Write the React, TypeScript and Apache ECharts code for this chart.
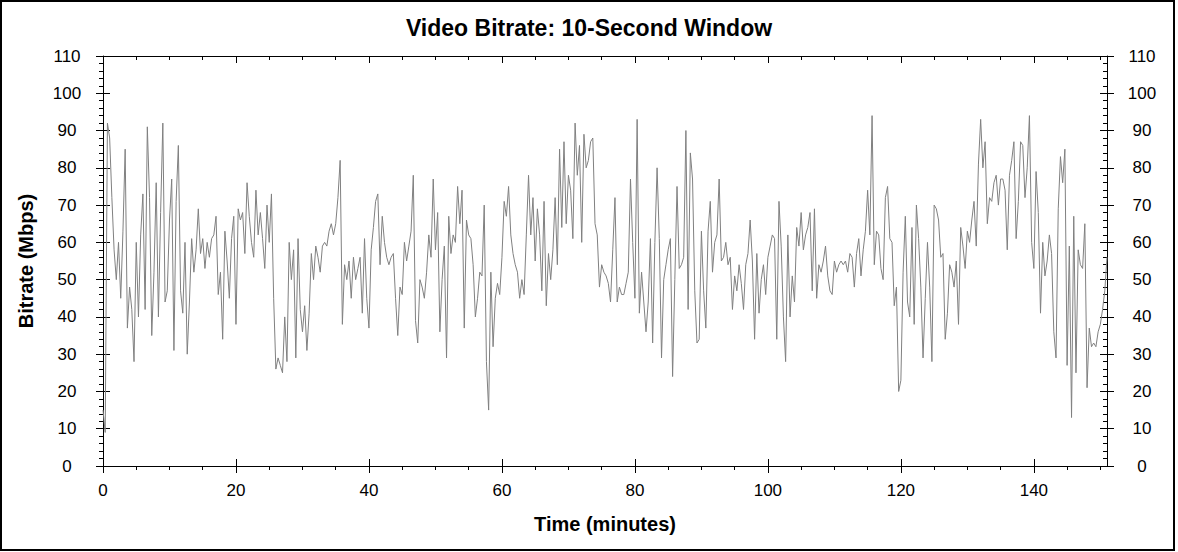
import React, { useEffect, useRef } from "react";
import * as echarts from "echarts";

// Sampling step of the bitrate trace, in minutes (20-second steps)
const STEP_MIN = 1 / 3;

// Bitrate (Mbps), in consecutive 20 s steps
const bitrate0to17 = [
  15, 9, 92, 88, 72, 58, 50, 60, 45, 63,
  85, 37, 48, 42, 28, 60, 40, 62, 73, 42,
  91, 72, 35, 52, 76, 40, 68, 92, 44, 47,
  66, 77, 31, 71, 86, 47, 41, 60, 30, 44,
  61, 52, 58, 69, 57, 61, 53, 60, 56, 61,
];
const bitrate17to33 = [
  62, 67, 46, 52, 34, 63, 55, 45, 61, 67,
  38, 69, 66, 68, 57, 76, 67, 60, 56, 74,
  62, 68, 61, 53, 70, 60, 73, 45, 26, 29,
  27, 25, 40, 28, 60, 50, 58, 29, 61, 42,
  36, 43, 31, 41, 57, 50, 59, 56, 52, 59, 60,
];
const bitrate34to50 = [
  59, 63, 65, 62, 65, 72, 82, 38, 54, 50,
  55, 45, 56, 50, 53, 56, 41, 61, 45, 37,
  58, 64, 71, 73, 54, 67, 60, 56, 54, 56,
  57, 45, 35, 48, 46, 60, 55, 59, 63, 78,
  39, 33, 50, 48, 45, 52, 62, 56, 77, 58,
];
const bitrate50to67 = [
  68, 36, 50, 59, 29, 67, 57, 62, 60, 75,
  65, 74, 37, 66, 62, 61, 54, 40, 45, 52,
  51, 70, 28, 15, 52, 32, 45, 49, 46, 56,
  71, 67, 75, 62, 57, 54, 52, 45, 50, 46,
  62, 78, 62, 72, 55, 69, 62, 47, 71, 43,
];
const bitrate67to84 = [
  57, 50, 58, 72, 54, 85, 64, 87, 65, 78,
  74, 61, 92, 78, 86, 60, 89, 80, 82, 87,
  88, 65, 62, 48, 54, 52, 51, 49, 44, 58,
  72, 44, 48, 46, 46, 49, 52, 77, 60, 45,
  93, 41, 52, 44, 36, 44, 61, 33, 60, 80, 61,
];
const bitrate84to101 = [
  29, 50, 54, 58, 61, 24, 50, 75, 53, 54,
  56, 90, 42, 84, 77, 47, 33, 34, 63, 47,
  37, 63, 71, 52, 60, 62, 77, 55, 56, 60,
  54, 56, 42, 51, 47, 54, 49, 42, 54, 57,
  66, 55, 34, 57, 41, 50, 54, 46, 56, 59, 62,
];
const bitrate101to117 = [
  61, 34, 71, 59, 40, 28, 62, 40, 51, 44,
  64, 59, 68, 58, 62, 64, 68, 47, 69, 45,
  54, 52, 55, 59, 51, 47, 46, 55, 52, 54,
  55, 54, 55, 52, 57, 56, 48, 57, 61, 51,
  58, 63, 74, 62, 94, 54, 63, 62, 53, 50,
];
const bitrate118to134 = [
  72, 75, 61, 60, 43, 48, 20, 23, 52, 67,
  44, 40, 64, 38, 70, 61, 48, 29, 45, 60,
  48, 28, 70, 69, 66, 56, 57, 34, 41, 54,
  52, 48, 55, 38, 64, 59, 53, 63, 60, 66,
  71, 59, 81, 93, 80, 87, 65, 72, 71, 76, 78,
];
const bitrate135to151 = [
  70, 77, 77, 74, 58, 78, 82, 87, 61, 71,
  87, 86, 72, 80, 94, 60, 53, 79, 68, 41,
  60, 51, 55, 62, 57, 36, 29, 69, 83, 76,
  85, 27, 59, 13, 67, 25, 58, 54, 53, 65,
  21, 37, 32, 33, 32, 36, 38, 42, 47, 56,
];

const X_MAX = 151;
const X_MAJOR_TICKS = [0, 20, 40, 60, 80, 100, 120, 140];
const X_MINOR_TICKS = [
  5, 10, 15, 25, 30, 35, 45, 50, 55, 65, 70, 75, 85, 90, 95,
  105, 110, 115, 125, 130, 135, 145, 150,
];
const Y_MAX = 110;
const Y_INTERVAL = 10;

const TITLE = "Video Bitrate: 10-Second Window";
const X_NAME = "Time (minutes)";
const Y_NAME = "Bitrate (Mbps)";

const FONT = "'Liberation Sans', Arial, sans-serif";
const BLACK = "#000000";

export default function App() {
  const ref = useRef<HTMLDivElement>(null);

  useEffect(() => {
    document.body.style.margin = "0";
    if (!ref.current) return;
    const chart = echarts.init(ref.current, null, { renderer: "svg" });

    const values = [
      ...bitrate0to17,
      ...bitrate17to33,
      ...bitrate34to50,
      ...bitrate50to67,
      ...bitrate67to84,
      ...bitrate84to101,
      ...bitrate101to117,
      ...bitrate118to134,
      ...bitrate135to151,
    ];
    const data = values.map((v, i) => [i * STEP_MIN, v]);

    const baseX = {
      type: "value",
      min: 0,
      max: X_MAX,
      splitLine: { show: false },
      axisLabel: { show: false },
      axisLine: { show: false, onZero: false, lineStyle: { color: BLACK, width: 1 } },
    };
    const baseY = {
      type: "value",
      min: 0,
      max: Y_MAX,
      interval: Y_INTERVAL,
      splitLine: { show: false },
      axisLabel: { show: false },
      axisLine: { show: false, onZero: false, lineStyle: { color: BLACK, width: 1 } },
    };
    const tickStyle = { color: BLACK, width: 1 };

    const option: any = {
      animation: false,
      backgroundColor: "#ffffff",
      grid: { left: 103, top: 56, width: 1004, height: 410, containLabel: false },
      xAxis: [
        {
          ...baseX,
          position: "bottom",
          axisLine: { show: true, onZero: false, lineStyle: { color: BLACK, width: 1 } },
          axisTick: { show: true, customValues: X_MAJOR_TICKS, length: 7, lineStyle: tickStyle },
          axisLabel: {
            show: true,
            customValues: X_MAJOR_TICKS,
            color: BLACK,
            fontSize: 17,
            fontFamily: FONT,
            margin: 16,
          },
        },
        {
          ...baseX,
          position: "bottom",
          axisTick: { show: true, inside: true, customValues: X_MAJOR_TICKS, length: 7, lineStyle: tickStyle },
        },
        {
          ...baseX,
          position: "bottom",
          axisTick: { show: true, customValues: X_MINOR_TICKS, length: 4, lineStyle: tickStyle },
        },
        {
          ...baseX,
          position: "top",
          axisLine: { show: true, onZero: false, lineStyle: { color: BLACK, width: 1 } },
          axisTick: { show: true, inside: true, customValues: X_MAJOR_TICKS, length: 7, lineStyle: tickStyle },
        },
        {
          ...baseX,
          position: "top",
          axisTick: { show: true, inside: true, customValues: X_MINOR_TICKS, length: 4, lineStyle: tickStyle },
        },
      ],
      yAxis: [
        {
          ...baseY,
          position: "left",
          axisLine: { show: true, onZero: false, lineStyle: { color: BLACK, width: 1 } },
          axisTick: { show: true, length: 7, lineStyle: tickStyle },
          minorTick: { show: true, splitNumber: 5, length: 4, lineStyle: tickStyle },
          minorSplitLine: { show: false },
          axisLabel: {
            show: true,
            color: BLACK,
            fontSize: 17,
            fontFamily: FONT,
            align: "center",
            margin: 36,
          },
        },
        {
          ...baseY,
          position: "left",
          axisTick: { show: true, inside: true, length: 7, lineStyle: tickStyle },
        },
        {
          ...baseY,
          position: "right",
          axisLine: { show: true, onZero: false, lineStyle: { color: BLACK, width: 1 } },
          axisTick: { show: true, length: 7, lineStyle: tickStyle },
          axisLabel: {
            show: true,
            color: BLACK,
            fontSize: 17,
            fontFamily: FONT,
            align: "center",
            margin: 35,
          },
        },
        {
          ...baseY,
          position: "right",
          axisTick: { show: true, inside: true, length: 7, lineStyle: tickStyle },
          minorTick: { show: true, splitNumber: 5, length: 4, lineStyle: tickStyle },
          minorSplitLine: { show: false },
        },
      ],
      series: [
        {
          type: "line",
          xAxisIndex: 0,
          yAxisIndex: 0,
          data,
          showSymbol: false,
          symbol: "none",
          clip: true,
          lineStyle: { color: "#808080", width: 1 },
        },
      ],
      graphic: [
        {
          type: "rect",
          shape: { x: 1, y: 1, width: 1173, height: 549 },
          style: { fill: "none", stroke: BLACK, lineWidth: 2 },
          silent: true,
        },
        {
          type: "text",
          x: 589,
          y: 28,
          style: {
            text: TITLE,
            fill: BLACK,
            font: `bold 23px ${FONT}`,
            align: "center",
            verticalAlign: "middle",
          },
        },
        {
          type: "text",
          x: 605,
          y: 524,
          style: {
            text: X_NAME,
            fill: BLACK,
            font: `bold 20px ${FONT}`,
            align: "center",
            verticalAlign: "middle",
          },
        },
        {
          type: "text",
          x: 26,
          y: 261,
          rotation: Math.PI / 2,
          style: {
            text: Y_NAME,
            fill: BLACK,
            font: `bold 20px ${FONT}`,
            align: "center",
            verticalAlign: "middle",
          },
        },
      ],
    };

    chart.setOption(option);
    return () => chart.dispose();
  }, []);

  return <div ref={ref} style={{ width: 1178, height: 552, background: "#ffffff" }} />;
}
